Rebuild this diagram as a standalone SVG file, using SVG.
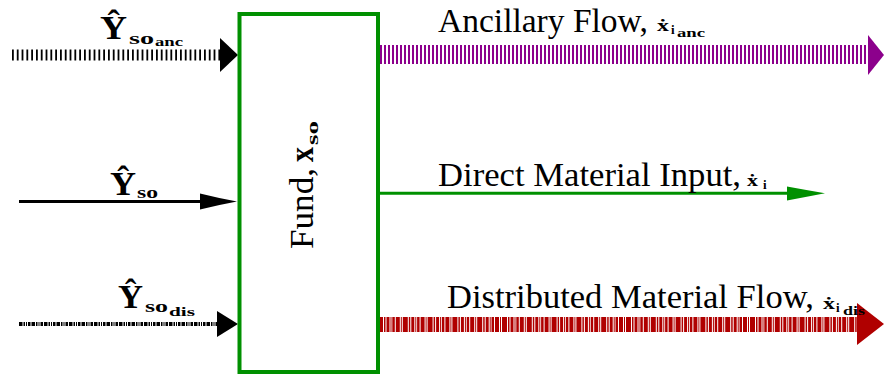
<svg xmlns="http://www.w3.org/2000/svg" width="884" height="375" viewBox="0 0 884 375">
  <style>
    .txt { font-family: "Liberation Serif", "DejaVu Serif", serif; fill: #000; }
    .bf { font-weight: bold; }
    .main { font-size: 34px; }
    .hat { font-size: 33px; font-weight: bold; }
    .sub { font-size: 17px; font-weight: bold; }
    .subsub { font-size: 13px; font-weight: bold; }
    .dot { font-size: 17px; font-weight: bold; }
    .tiny { font-size: 13px; font-weight: bold; }
    .fund { fill: #ffffff; stroke: #009000; stroke-width: 4; }
  </style>
  <rect width="884" height="375" fill="#ffffff"/>

  <!-- flows -->
  <g id="connectors">
    <!-- ancillary input (striped) -->
    <line x1="12" y1="55" x2="221" y2="55" stroke="#000" stroke-width="11" stroke-dasharray="1.8 3"/>
    <polygon points="220,38 238,55 220,72" fill="#000"/>
    <!-- main input -->
    <line x1="19" y1="201.5" x2="205" y2="201.5" stroke="#000" stroke-width="3"/>
    <path d="M237,201.5 Q218,198 200,193.5 L200,209.5 Q218,205 237,201.5 Z" fill="#000"/>
    <!-- distributed input (dash-dot) -->
    <line x1="19" y1="324" x2="218" y2="324" stroke="#000" stroke-width="4" stroke-dasharray="3.5 1 1.5 1 1 1 2.5 1"/>
    <polygon points="217,311 238,324 217,337" fill="#000"/>

    <!-- ancillary output -->
    <line x1="380" y1="54.5" x2="869" y2="54.5" stroke="#8c008c" stroke-width="19" stroke-dasharray="2 2"/>
    <polygon points="868,35 884,55 868,75" fill="#8c008c"/>
    <!-- direct material output -->
    <line x1="378" y1="193.3" x2="792" y2="193.3" stroke="#009000" stroke-width="3"/>
    <path d="M825,193.3 Q806,190 787,186.5 L787,200.5 Q806,197 825,193.3 Z" fill="#009000"/>
    <!-- distributed material output -->
    <line x1="378" y1="324.5" x2="858" y2="324.5" stroke="#b00000" stroke-width="15" stroke-dasharray="5 1 1.5 1 3 1 1 0.8 2.5 1 4 1 1 1"/>
    <polygon points="857,303 884,324 857,345" fill="#b00000"/>
  </g>

  <!-- fund node -->
  <g id="fund-node">
    <rect class="fund" x="239.5" y="14" width="138.5" height="358"/>
    <g transform="translate(313,249) rotate(-90)">
      <text class="txt main" x="0" y="0" textLength="81" lengthAdjust="spacingAndGlyphs">Fund,</text>
      <text class="txt main bf" x="87" y="0" textLength="15" lengthAdjust="spacingAndGlyphs">x</text>
      <text class="txt sub" x="104" y="5" textLength="24" lengthAdjust="spacingAndGlyphs">so</text>
    </g>
  </g>

  <!-- flow labels -->
  <g id="labels">
    <g id="label-in-anc">
      <text class="txt hat" x="100" y="39" textLength="27" lengthAdjust="spacingAndGlyphs">Ŷ</text>
      <text class="txt sub" x="129" y="44" textLength="25" lengthAdjust="spacingAndGlyphs">so</text>
      <text class="txt subsub" x="155" y="46" textLength="28" lengthAdjust="spacingAndGlyphs">anc</text>
    </g>
    <g id="label-in">
      <text class="txt hat" x="110" y="195" textLength="26" lengthAdjust="spacingAndGlyphs">Ŷ</text>
      <text class="txt sub" x="137" y="198" textLength="21" lengthAdjust="spacingAndGlyphs">so</text>
    </g>
    <g id="label-in-dis">
      <text class="txt hat" x="118" y="308" textLength="25" lengthAdjust="spacingAndGlyphs">Ŷ</text>
      <text class="txt sub" x="145" y="312" textLength="23" lengthAdjust="spacingAndGlyphs">so</text>
      <text class="txt subsub" x="169" y="316" textLength="26" lengthAdjust="spacingAndGlyphs">dis</text>
    </g>

    <g id="label-out-anc">
      <text class="txt main" x="438" y="32" textLength="210" lengthAdjust="spacingAndGlyphs">Ancillary Flow,</text>
      <text class="txt dot" x="657" y="31" textLength="12" lengthAdjust="spacingAndGlyphs">ẋ</text>
      <text class="txt tiny" x="671" y="34">i</text>
      <text class="txt subsub" x="677" y="37" textLength="28" lengthAdjust="spacingAndGlyphs">anc</text>
    </g>
    <g id="label-out-direct">
      <text class="txt main" x="438" y="186" textLength="303" lengthAdjust="spacingAndGlyphs">Direct Material Input,</text>
      <text class="txt dot" x="747" y="186" textLength="11" lengthAdjust="spacingAndGlyphs">ẋ</text>
      <text class="txt tiny" x="763" y="189">i</text>
    </g>
    <g id="label-out-dis">
      <text class="txt main" x="447" y="308" textLength="367" lengthAdjust="spacingAndGlyphs">Distributed Material Flow,</text>
      <text class="txt dot" x="823" y="309" textLength="12" lengthAdjust="spacingAndGlyphs">ẋ</text>
      <text class="txt tiny" x="836" y="312">i</text>
      <text class="txt subsub" x="843" y="315" textLength="22" lengthAdjust="spacingAndGlyphs">dis</text>
    </g>
  </g>
</svg>
